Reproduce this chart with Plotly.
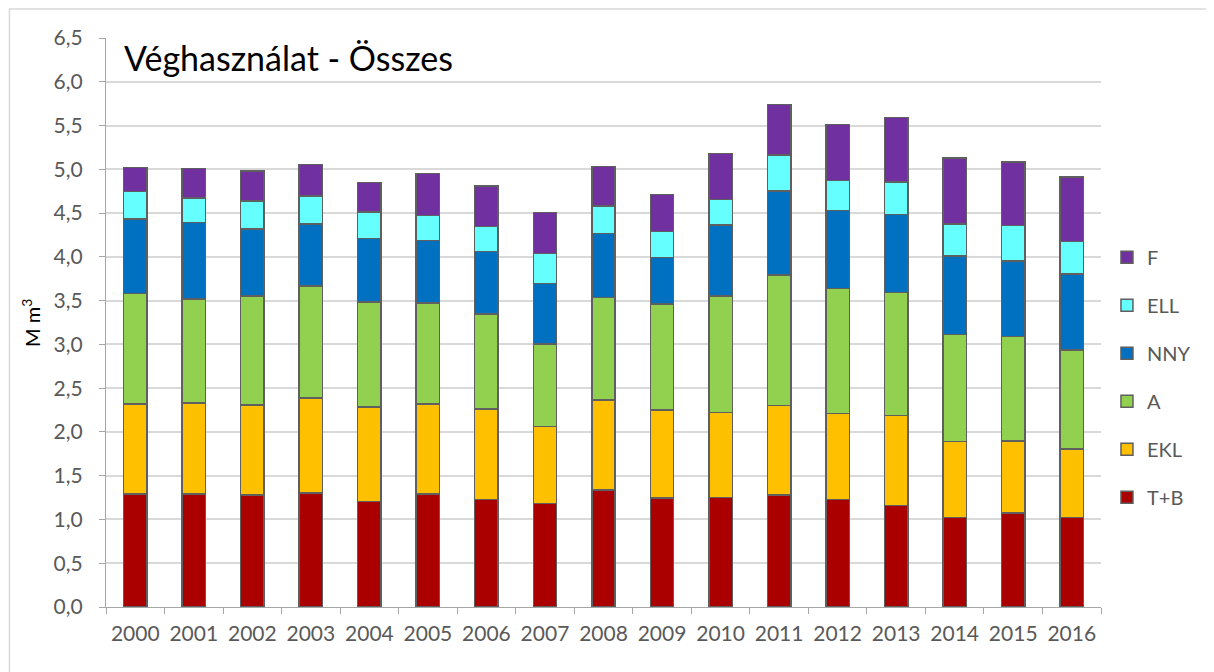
import plotly.graph_objects as go

years = [str(y) for y in range(2000, 2017)]

series_names = ["T+B", "EKL", "A", "NNY", "ELL", "F"]
tb  = [1.29, 1.29, 1.28, 1.30, 1.205, 1.29, 1.23, 1.18, 1.335, 1.247, 1.25, 1.28, 1.228, 1.162, 1.023, 1.073, 1.023]
ekl = [1.03, 1.04, 1.03, 1.085, 1.08, 1.03, 1.03, 0.88, 1.027, 1.004, 0.973, 1.023, 0.98, 1.027, 0.869, 0.823, 0.78]
a   = [1.26, 1.19, 1.24, 1.28, 1.20, 1.155, 1.09, 0.946, 1.174, 1.208, 1.328, 1.487, 1.433, 1.402, 1.22, 1.193, 1.131]
nny = [0.85, 0.87, 0.77, 0.71, 0.725, 0.71, 0.71, 0.687, 0.729, 0.533, 0.811, 0.965, 0.888, 0.895, 0.896, 0.865, 0.869]
ell = [0.315, 0.28, 0.32, 0.32, 0.30, 0.29, 0.285, 0.344, 0.317, 0.298, 0.293, 0.409, 0.344, 0.371, 0.367, 0.405, 0.371]
f   = [0.275, 0.34, 0.34, 0.36, 0.34, 0.475, 0.465, 0.47, 0.448, 0.424, 0.525, 0.575, 0.641, 0.734, 0.756, 0.722, 0.737]
colors = ["#AA0000", "#FFC000", "#92D050", "#0070C0", "#66FFFF", "#7030A0"]
y_ticks = [i * 0.5 for i in range(14)]

FONT = "Lato"
GREY = "#595959"

fig = go.Figure()
n = len(series_names)
for i, (name, vals, col) in enumerate(zip(series_names, [tb, ekl, a, nny, ell, f], colors)):
    fig.add_trace(go.Bar(
        x=years, y=vals, name=name, legendgroup=name, legendrank=n - i,
        marker=dict(color=col, line=dict(color="#5f5f5f", width=1.5)),
    ))

fig.update_layout(
    width=1214, height=672,
    barmode="stack", bargap=0.6,
    separators=", ",
    paper_bgcolor="white", plot_bgcolor="white",
    margin=dict(l=98, r=121, t=30, b=73),
    font=dict(family=FONT, size=21, color=GREY),
    legend=dict(
        x=1.006, y=0.649, xanchor="left", yanchor="top",
        traceorder="grouped", tracegroupgap=19,
        font=dict(family=FONT, size=20, color=GREY),
        bgcolor="rgba(0,0,0,0)",
    ),
    xaxis=dict(
        type="category", showline=True, linecolor="#A6A6A6", linewidth=1.2,
        ticks="outside", tickson="boundaries", ticklen=6, tickcolor="#A6A6A6",
        ticklabelstandoff=8,
        showgrid=False, tickfont=dict(family=FONT, size=21, color=GREY),
    ),
    yaxis=dict(
        range=[0, 6.5], tickvals=y_ticks, tickformat=".1f",
        showline=True, linecolor="#A6A6A6", linewidth=1.2,
        ticks="outside", ticklen=6, tickcolor="#A6A6A6",
        ticklabelstandoff=12,
        showgrid=True, gridcolor="#D9D9D9", gridwidth=1.5,
        tickfont=dict(family=FONT, size=21, color=GREY),
        zeroline=False,
    ),
    annotations=[
        dict(text="Véghasználat - Összes", xref="paper", yref="paper",
             x=0.016, y=0.9666, xanchor="left", yanchor="middle", showarrow=False,
             font=dict(family=FONT, size=34, color="black")),
        dict(text="M m<sup>3</sup>", xref="paper", yref="paper",
             x=-0.076, y=0.5, xanchor="center", yanchor="middle", textangle=-90,
             showarrow=False, font=dict(family=FONT, size=20, color="black")),
    ],
    shapes=[
        dict(type="rect", xref="paper", yref="paper",
             x0=-0.097, x1=1.25, y0=-0.25, y1=1.051,
             line=dict(color="#D9D9D9", width=1.5), layer="below"),
    ],
)

fig.write_html("out.html")
